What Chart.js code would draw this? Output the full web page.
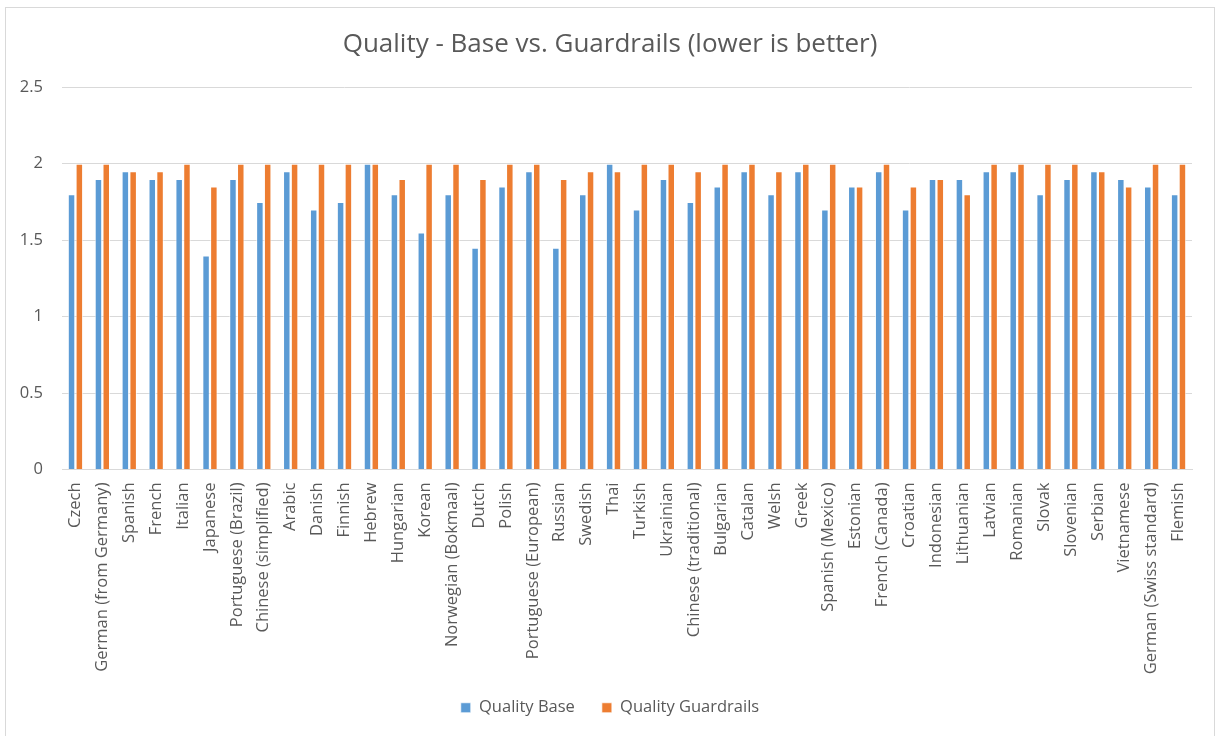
<!DOCTYPE html>
<html lang="en">
<head>
  <meta charset="UTF-8" />
  <title>Quality - Base vs. Guardrails</title>
  <script src="https://cdn.jsdelivr.net/npm/chart.js"></script>
  <style>
    body {
      margin: 0;
      padding: 0;
      background-color: #ffffff;
      font-family: 'Open Sans', sans-serif;
    }

    .frame {
      position: absolute;
      left: 5px;
      top: 7px;
      width: 1208px;
      height: 740px;
      border: 1px solid #d9d9d9;
      border-bottom: none;
    }

    .chart {
      position: absolute;
      left: 0;
      top: 0;
      width: 1215px;
      height: 736px;
    }
  </style>
</head>
<body>

<div class="frame"></div>
<div class="chart">
  <canvas id="qualityChart" width="1215" height="736"></canvas>
</div>

<script>
  // Languages on the x axis
  const languages = [
    "Czech", "German (from Germany)", "Spanish", "French", "Italian", "Japanese",
    "Portuguese (Brazil)", "Chinese (simplified)", "Arabic", "Danish", "Finnish",
    "Hebrew", "Hungarian", "Korean", "Norwegian (Bokmaal)", "Dutch", "Polish",
    "Portuguese (European)", "Russian", "Swedish", "Thai", "Turkish", "Ukrainian",
    "Chinese (traditional)", "Bulgarian", "Catalan", "Welsh", "Greek",
    "Spanish (Mexico)", "Estonian", "French (Canada)", "Croatian", "Indonesian",
    "Lithuanian", "Latvian", "Romanian", "Slovak", "Slovenian", "Serbian",
    "Vietnamese", "German (Swiss standard)", "Flemish"
  ];

  const qualityBase = [
    1.8, 1.9, 1.95, 1.9, 1.9, 1.4, 1.9, 1.75, 1.95, 1.7, 1.75,
    2.0, 1.8, 1.55, 1.8, 1.45, 1.85, 1.95, 1.45, 1.8, 2.0, 1.7, 1.9,
    1.75, 1.85, 1.95, 1.8, 1.95, 1.7, 1.85, 1.95, 1.7, 1.9,
    1.9, 1.95, 1.95, 1.8, 1.9, 1.95, 1.9, 1.85, 1.8
  ];

  const qualityGuardrails = [
    2.0, 2.0, 1.95, 1.95, 2.0, 1.85, 2.0, 2.0, 2.0, 2.0, 2.0,
    2.0, 1.9, 2.0, 2.0, 1.9, 2.0, 2.0, 1.9, 1.95, 1.95, 2.0, 2.0,
    1.95, 2.0, 2.0, 1.95, 2.0, 2.0, 1.85, 2.0, 1.85, 1.9,
    1.8, 2.0, 2.0, 2.0, 2.0, 1.95, 1.85, 2.0, 2.0
  ];

  const yTicks = [0, 0.5, 1, 1.5, 2, 2.5];

  const textColor = "#595959";
  const gridColor = "#d9d9d9";

  Chart.defaults.font.family = "'Open Sans', sans-serif";
  Chart.defaults.color = textColor;

  // long rotated category names run past the x axis box, so don't clip them
  const unclipLabels = {
    id: 'unclipLabels',
    afterLayout(chart) {
      chart.scales.x._computeLabelArea = () => undefined;
    }
  };

  new Chart(document.getElementById('qualityChart'), {
    type: 'bar',
    data: {
      labels: languages,
      datasets: [
        {
          label: "Quality Base",
          data: qualityBase,
          backgroundColor: "#5b9bd5",
          borderColor: "rgba(255,255,255,0.7)",
          borderWidth: 1,
          categoryPercentage: 0.58,
          barPercentage: 0.96
        },
        {
          label: "Quality Guardrails",
          data: qualityGuardrails,
          backgroundColor: "#ed7d31",
          borderColor: "rgba(255,255,255,0.7)",
          borderWidth: 1,
          categoryPercentage: 0.58,
          barPercentage: 0.96
        }
      ]
    },
    plugins: [unclipLabels],
    options: {
      responsive: false,
      animation: false,
      layout: {
        padding: { left: 5, right: 0, top: 0, bottom: 10 }
      },
      plugins: {
        title: {
          display: true,
          text: "Quality - Base vs. Guardrails (lower is better)",
          color: textColor,
          font: { size: 26, weight: 'normal' },
          padding: { top: 29, bottom: 27 }
        },
        legend: {
          position: 'bottom',
          labels: {
            color: textColor,
            font: { size: 16.5 },
            boxWidth: 10,
            boxHeight: 10,
            padding: 27
          }
        },
        tooltip: { enabled: false }
      },
      scales: {
        x: {
          grid: { display: false, drawTicks: false },
          border: { display: true, color: gridColor, width: 1 },
          ticks: {
            autoSkip: false,
            maxRotation: 90,
            minRotation: 90,
            padding: 13,
            font: { size: 16.5 }
          },
          afterFit: (scale) => { scale.height = 203; }
        },
        y: {
          min: 0,
          max: 2.5,
          afterBuildTicks: (scale) => {
            scale.ticks = yTicks.map(v => ({ value: v }));
          },
          grid: { color: gridColor, drawTicks: false, lineWidth: 1 },
          border: { display: false },
          ticks: {
            padding: 19,
            font: { size: 16.5 },
            callback: (v) => String(v)
          },
          afterFit: (scale) => { scale.width = 57; }
        },
        // empty right-hand margin beside the plot
        yRight: {
          position: 'right',
          min: 0,
          max: 2.5,
          grid: { display: false, drawTicks: false },
          border: { display: false },
          ticks: { display: false },
          afterFit: (scale) => { scale.width = 23; }
        }
      }
    }
  });
</script>
</body>
</html>
